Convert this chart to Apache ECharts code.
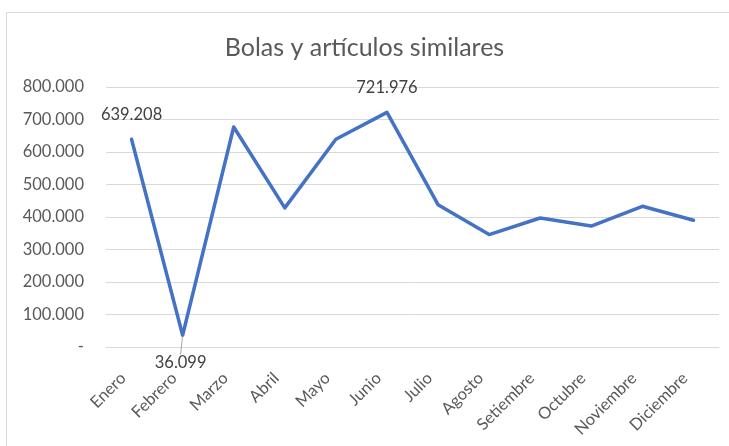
<!DOCTYPE html>
<html>
<head>
<meta charset="utf-8">
<script src="https://cdn.jsdelivr.net/npm/echarts@6/dist/echarts.min.js"></script>
<style>
    html, body { margin: 0; padding: 0; background: #fff; }
    #main { width: 729px; height: 446px; }
</style>
</head>
<body>
<div id="main"></div>
<script>
const months = ['Enero', 'Febrero', 'Marzo', 'Abril', 'Mayo', 'Junio', 'Julio',
    'Agosto', 'Setiembre', 'Octubre', 'Noviembre', 'Diciembre'];
const values = [639208, 36099, 677000, 428000, 639000, 721976, 438000,
    346000, 397000, 372000, 433000, 390000];
// only these points carry a label in the original
const labelled = { 0: 'top', 1: 'below', 5: 'top' };

const font = 'Lato, "Liberation Sans", sans-serif';

function fmt(v) {
    if (v === 0) return '-';
    return String(Math.round(v)).replace(/\B(?=(\d{3})+(?!\d))/g, '.');
}

const seriesData = values.map((v, i) => {
    const item = { value: v };
    if (labelled[i] === 'top') {
        item.label = { show: true, position: 'top', distance: 15 };
    } else if (labelled[i] === 'below') {
        item.label = { show: true, position: 'bottom', distance: 3 };
        item.labelLine = { show: true };
    }
    return item;
});

const myChart = echarts.init(document.getElementById('main'));
const option = {
    animation: false,
    title: {
        text: 'Bolas y artículos similares',
        left: 'center',
        top: 30,
        textStyle: { fontFamily: font, fontSize: 25, fontWeight: 'normal', color: '#595959' }
    },
    graphic: [{
        type: 'rect',
        shape: { x: 6.5, y: 12.5, width: 740, height: 450 },
        style: { fill: 'none', stroke: '#d9d9d9', lineWidth: 1 },
        silent: true
    }],
    grid: { left: 106, right: 10, top: 87, bottom: 99 },
    xAxis: {
        type: 'category',
        data: months,
        boundaryGap: true,
        axisLine: { lineStyle: { color: '#d9d9d9' } },
        axisTick: { show: false },
        axisLabel: {
            interval: 0,
            rotate: 45,
            margin: 20,
            padding: [0, 12, 0, 0],
            color: '#595959',
            fontFamily: font,
            fontSize: 16.5
        }
    },
    yAxis: {
        type: 'value',
        min: 0,
        max: 800000,
        interval: 100000,
        axisLine: { show: false },
        axisTick: { show: false },
        splitLine: { lineStyle: { color: '#d9d9d9', width: 1 } },
        axisLabel: {
            margin: 22,
            color: '#595959',
            fontFamily: font,
            fontSize: 16.5,
            formatter: fmt
        }
    },
    series: [{
        type: 'line',
        data: seriesData,
        showSymbol: true,
        symbol: 'circle',
        symbolSize: 2,
        lineStyle: { color: '#4472C4', width: 3.5, cap: 'round', join: 'round' },
        itemStyle: { color: 'rgba(0,0,0,0)', borderWidth: 0 },
        label: {
            color: '#404040',
            fontFamily: font,
            fontSize: 16.5,
            formatter: p => fmt(p.value)
        },
        labelLayout: p => (p.dataIndex === 1 ? { dx: -2, dy: 15 } : {}),
        labelLine: { lineStyle: { color: '#a6a6a6', width: 1 } }
    }]
};
myChart.setOption(option);
</script>
</body>
</html>
